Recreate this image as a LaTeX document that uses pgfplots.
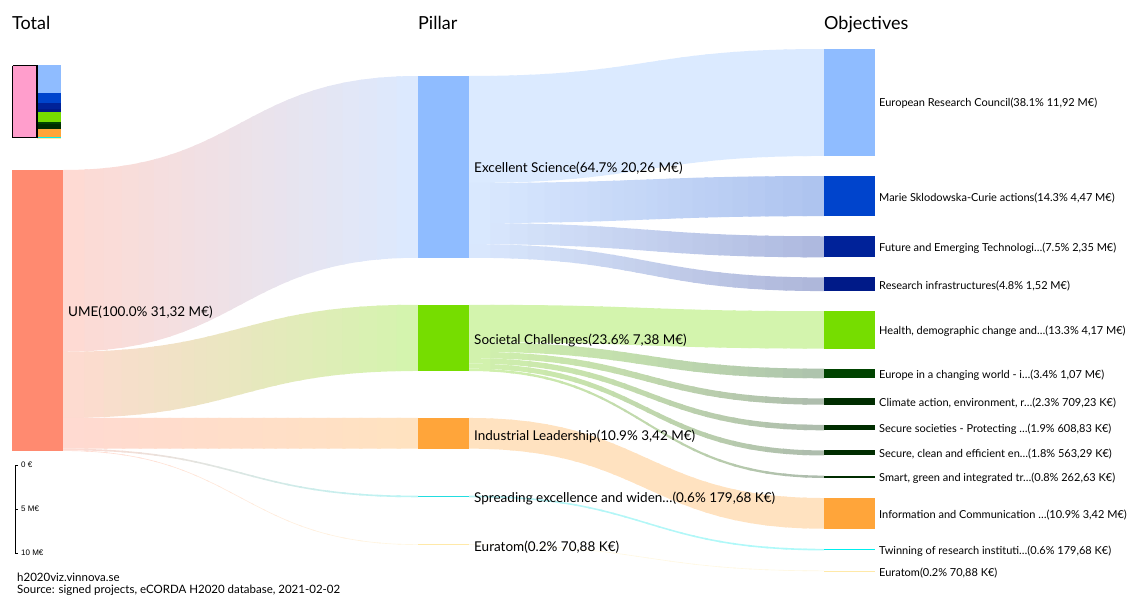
\documentclass[border=0pt]{standalone}
\usepackage{pgfplots}
\pgfplotsset{compat=1.18}
\usepackage{fontspec}
\setmainfont{Lato}
\newfontfamily\arialf{Liberation Sans}
\definecolor{cTot}{HTML}{FF8A70}
\definecolor{cES}{HTML}{8FBCFF}
\definecolor{cSC}{HTML}{76DD00}
\definecolor{cIL}{HTML}{FFA53A}
\definecolor{cSP}{HTML}{22DDE0}
\definecolor{cEU}{HTML}{FFE9A8}
\definecolor{cMSCA}{HTML}{0044CC}
\definecolor{cFET}{HTML}{002299}
\definecolor{cRI}{HTML}{001A88}
\definecolor{cEC}{HTML}{004400}
\definecolor{cDG}{HTML}{002D00}
\definecolor{cTW}{HTML}{00EEEE}
\definecolor{cPink}{HTML}{FF9ECC}
% link band: x0, xmid, x1, y0top, y0bot, y1top, y1bot, colour A, colour B
% drawn as 24 sub-pieces of the cubic Bezier edges, coloured from A to B
\newcommand{\lnk}[9]{%
  \pgfmathsetmacro\lkD{#3-#1}%
  \pgfmathsetmacro\lkHt{#6-#4}%
  \pgfmathsetmacro\lkHb{#7-#5}%
  \foreach \k in {0,...,23}{%
    \pgfmathsetmacro\ta{\k/24}%
    \pgfmathsetmacro\tb{min(1,(\k+1.2)/24)}%
    \pgfmathsetmacro\hh{(\tb-\ta)/3}%
    \pgfmathsetmacro\xa{#1+\lkD*(1.5*\ta-1.5*\ta*\ta+\ta*\ta*\ta)}%
    \pgfmathsetmacro\xb{#1+\lkD*(1.5*\tb-1.5*\tb*\tb+\tb*\tb*\tb)}%
    \pgfmathsetmacro\cxa{\xa+\hh*\lkD*(1.5-3*\ta+3*\ta*\ta)}%
    \pgfmathsetmacro\cxb{\xb-\hh*\lkD*(1.5-3*\tb+3*\tb*\tb)}%
    \pgfmathsetmacro\sa{3*\ta*\ta-2*\ta*\ta*\ta}%
    \pgfmathsetmacro\sb{3*\tb*\tb-2*\tb*\tb*\tb}%
    \pgfmathsetmacro\da{\hh*(6*\ta-6*\ta*\ta)}%
    \pgfmathsetmacro\db{\hh*(6*\tb-6*\tb*\tb)}%
    \pgfmathsetmacro\yta{#4+\lkHt*\sa}%
    \pgfmathsetmacro\ytb{#4+\lkHt*\sb}%
    \pgfmathsetmacro\cyta{\yta+\lkHt*\da}%
    \pgfmathsetmacro\cytb{\ytb-\lkHt*\db}%
    \pgfmathsetmacro\yba{#5+\lkHb*\sa}%
    \pgfmathsetmacro\ybb{#5+\lkHb*\sb}%
    \pgfmathsetmacro\cyba{\yba+\lkHb*\da}%
    \pgfmathsetmacro\cybb{\ybb-\lkHb*\db}%
    \pgfmathsetmacro\fr{(0.5*\xa+0.5*\xb-#1)/\lkD}%
    \pgfmathtruncatemacro\pc{100-100*\fr}%
    \edef\lkcmd{\noexpand\fill[fill={#8!\pc!#9!32!white}]
      (axis cs:\xa,\yta) .. controls (axis cs:\cxa,\cyta) and (axis cs:\cxb,\cytb) .. (axis cs:\xb,\ytb)
      -- (axis cs:\xb,\ybb) .. controls (axis cs:\cxb,\cybb) and (axis cs:\cxa,\cyba) .. (axis cs:\xa,\yba) -- cycle;}%
    \lkcmd
  }%
}
\newcommand{\lab}[3]{\node[anchor=west, inner sep=0pt, font=\fontsize{#3}{#3}\selectfont] at (axis cs:#1) {#2};}
\begin{document}
\begin{tikzpicture}
\begin{axis}[name=ax, width=1131pt, height=594pt, scale only axis,
  xmin=0, xmax=1131, ymin=0, ymax=594, y dir=reverse, hide axis, clip=false]
% ---- links: total -> pillars (values in M EUR: 20.26, 7.38, 3.42, 0.17968, 0.07088; 8.972 px per M EUR)
\lnk{63}{240.5}{418}{170}{351.77}{76}{257.77}{cTot}{cES}
\lnk{63}{240.5}{418}{351.77}{417.98}{304.77}{370.98}{cTot}{cSC}
\lnk{63}{240.5}{418}{417.98}{448.66}{417.98}{448.66}{cTot}{cIL}
\lnk{63}{240.5}{418}{448.66}{450.27}{495.66}{497.27}{cTot}{cSP}
\lnk{63}{240.5}{418}{450.27}{450.91}{544.27}{544.91}{cTot}{cEU}
% ---- links: pillars -> objectives
\lnk{469}{646.5}{824}{76}{182.95}{49}{155.95}{cES}{cES}
\lnk{469}{646.5}{824}{182.95}{223.05}{176.05}{216.15}{cES}{cMSCA}
\lnk{469}{646.5}{824}{223.05}{244.13}{236.25}{257.33}{cES}{cFET}
\lnk{469}{646.5}{824}{244.13}{257.77}{277.43}{291.07}{cES}{cRI}
\lnk{469}{646.5}{824}{304.77}{342.18}{311.17}{348.58}{cSC}{cSC}
\lnk{469}{646.5}{824}{342.18}{351.78}{368.68}{378.28}{cSC}{cEC}
\lnk{469}{646.5}{824}{351.78}{358.14}{398.38}{404.74}{cSC}{cDG}
\lnk{469}{646.5}{824}{358.14}{363.60}{424.84}{430.30}{cSC}{cDG}
\lnk{469}{646.5}{824}{363.60}{368.65}{450.40}{455.45}{cSC}{cDG}
\lnk{469}{646.5}{824}{368.65}{371.01}{475.55}{477.91}{cSC}{cDG}
\lnk{469}{646.5}{824}{417.98}{448.66}{498.01}{528.69}{cIL}{cIL}
\lnk{469}{646.5}{824}{495.66}{497.27}{548.79}{550.40}{cSP}{cTW}
\lnk{469}{646.5}{824}{544.27}{544.91}{570.50}{571.14}{cEU}{cEU}
% ---- nodes
\addplot[fill=cTot, draw=none] coordinates {(12,170) (63,170) (63,450.94) (12,450.94)};
\addplot[fill=cES, draw=none] coordinates {(418,76) (469,76) (469,257.77) (418,257.77)};
\addplot[fill=cSC, draw=none] coordinates {(418,304.77) (469,304.77) (469,370.98) (418,370.98)};
\addplot[fill=cIL, draw=none] coordinates {(418,417.98) (469,417.98) (469,448.66) (418,448.66)};
\addplot[fill=cSP, draw=none] coordinates {(418,495.66) (469,495.66) (469,497.27) (418,497.27)};
\addplot[fill=cEU, draw=none] coordinates {(418,544.27) (469,544.27) (469,544.91) (418,544.91)};
\addplot[fill=cES, draw=none] coordinates {(824,49) (875,49) (875,155.95) (824,155.95)};
\addplot[fill=cMSCA, draw=none] coordinates {(824,176.05) (875,176.05) (875,216.15) (824,216.15)};
\addplot[fill=cFET, draw=none] coordinates {(824,236.25) (875,236.25) (875,257.33) (824,257.33)};
\addplot[fill=cRI, draw=none] coordinates {(824,277.43) (875,277.43) (875,291.07) (824,291.07)};
\addplot[fill=cSC, draw=none] coordinates {(824,311.17) (875,311.17) (875,348.58) (824,348.58)};
\addplot[fill=cEC, draw=none] coordinates {(824,368.68) (875,368.68) (875,378.28) (824,378.28)};
\addplot[fill=cDG, draw=none] coordinates {(824,398.38) (875,398.38) (875,404.74) (824,404.74)};
\addplot[fill=cDG, draw=none] coordinates {(824,424.84) (875,424.84) (875,430.30) (824,430.30)};
\addplot[fill=cDG, draw=none] coordinates {(824,450.40) (875,450.40) (875,455.45) (824,455.45)};
\addplot[fill=cDG, draw=none] coordinates {(824,475.55) (875,475.55) (875,477.91) (824,477.91)};
\addplot[fill=cIL, draw=none] coordinates {(824,498.01) (875,498.01) (875,528.69) (824,528.69)};
\addplot[fill=cTW, draw=none] coordinates {(824,548.79) (875,548.79) (875,550.40) (824,550.40)};
\addplot[fill=cEU, draw=none] coordinates {(824,570.50) (875,570.50) (875,571.14) (824,571.14)};
% ---- mini overview (2.331 px per M EUR)
\addplot[fill=cES, draw=none] coordinates {(37,65) (61,65) (61,92.78) (37,92.78)};
\addplot[fill=cMSCA, draw=none] coordinates {(37,92.78) (61,92.78) (61,103.20) (37,103.20)};
\addplot[fill=cFET, draw=none] coordinates {(37,103.20) (61,103.20) (61,108.68) (37,108.68)};
\addplot[fill=cRI, draw=none] coordinates {(37,108.68) (61,108.68) (61,112.22) (37,112.22)};
\addplot[fill=cSC, draw=none] coordinates {(37,112.22) (61,112.22) (61,121.94) (37,121.94)};
\addplot[fill=cEC, draw=none] coordinates {(37,121.94) (61,121.94) (61,124.43) (37,124.43)};
\addplot[fill=cDG, draw=none] coordinates {(37,124.43) (61,124.43) (61,129.42) (37,129.42)};
\addplot[fill=cIL, draw=none] coordinates {(37,129.42) (61,129.42) (61,137.39) (37,137.39)};
\addplot[fill=cTW, draw=none] coordinates {(37,137.39) (61,137.39) (61,137.81) (37,137.81)};
\addplot[fill=cEU, draw=none] coordinates {(37,137.81) (61,137.81) (61,138) (37,138)};
\addplot[fill=cPink, draw=black, line width=1.3pt] coordinates {(12.5,65.5) (37,65.5) (37,137.5) (12.5,137.5) (12.5,65.5)};
% ---- scale bar
\addplot[black, line width=0.8pt] coordinates {(18,465) (15,465) (15,553) (18,553)};
\addplot[black, line width=0.8pt] coordinates {(15,509) (18,509)};
\node[anchor=west, inner sep=0pt, font=\arialf\fontsize{8}{9}\selectfont] at (axis cs:21,465) {0 €};
\node[anchor=west, inner sep=0pt, font=\arialf\fontsize{8}{9}\selectfont] at (axis cs:21,509) {5 M€};
\node[anchor=west, inner sep=0pt, font=\arialf\fontsize{8}{9}\selectfont] at (axis cs:21,553) {10 M€};
% ---- headers
\node[anchor=base west, inner sep=0pt, font=\fontsize{18}{20}\selectfont] at (axis cs:12,29.5) {Total};
\node[anchor=base west, inner sep=0pt, font=\fontsize{18}{20}\selectfont] at (axis cs:418,29.5) {Pillar};
\node[anchor=base west, inner sep=0pt, font=\fontsize{18}{20}\selectfont] at (axis cs:824,29.5) {Objectives};
% ---- labels
\lab{68,312.5}{UME(100.0\% 31,32 M€)}{13.5}
\lab{474,168.5}{Excellent Science(64.7\% 20,26 M€)}{13.5}
\lab{474,340}{Societal Challenges(23.6\% 7,38 M€)}{13.5}
\lab{474,436}{Industrial Leadership(10.9\% 3,42 M€)}{13.5}
\lab{474,498.5}{Spreading excellence and widen…(0.6\% 179,68 K€)}{13.5}
\lab{474,547}{Euratom(0.2\% 70,88 K€)}{13.5}
\lab{879,103.5}{European Research Council(38.1\% 11,92 M€)}{11}
\lab{879,198}{Marie Sklodowska-Curie actions(14.3\% 4,47 M€)}{11}
\lab{879,248.5}{Future and Emerging Technologi…(7.5\% 2,35 M€)}{11}
\lab{879,286}{Research infrastructures(4.8\% 1,52 M€)}{11}
\lab{879,331.5}{Health, demographic change and…(13.3\% 4,17 M€)}{11}
\lab{879,375}{Europe in a changing world - i…(3.4\% 1,07 M€)}{11}
\lab{879,403.5}{Climate action, environment, r…(2.3\% 709,23 K€)}{11}
\lab{879,429.5}{Secure societies - Protecting …(1.9\% 608,83 K€)}{11}
\lab{879,454.5}{Secure, clean and efficient en…(1.8\% 563,29 K€)}{11}
\lab{879,478.5}{Smart, green and integrated tr…(0.8\% 262,63 K€)}{11}
\lab{879,515}{Information and Communication …(10.9\% 3,42 M€)}{11}
\lab{879,551.5}{Twinning of research instituti…(0.6\% 179,68 K€)}{11}
\lab{879,573.5}{Euratom(0.2\% 70,88 K€)}{11}
% ---- footer
\node[anchor=base west, inner sep=0pt, font=\fontsize{11.5}{12}\selectfont] at (axis cs:17,581) {h2020viz.vinnova.se};
\node[anchor=base west, inner sep=0pt, font=\fontsize{11.5}{12}\selectfont] at (axis cs:17,593) {Source: signed projects, eCORDA H2020 database, 2021-02-02};
\end{axis}
\pgfresetboundingbox
\path (ax.south west) rectangle (ax.north east);
\end{tikzpicture}
\end{document}
